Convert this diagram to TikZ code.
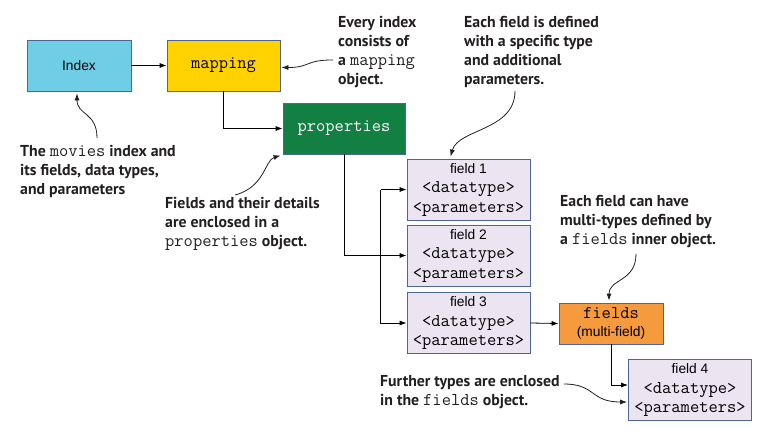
\documentclass[tikz,border=0pt]{standalone}
\usepackage{fontspec}
\setmainfont{Liberation Sans}
\newfontfamily\notefont{PT Sans}
\usepackage{tikz}
\usetikzlibrary{calc,arrows.meta}

\definecolor{indexblue}{HTML}{6FCDE6}
\definecolor{mapyellow}{HTML}{FFD200}
\definecolor{propgreen}{HTML}{128042}
\definecolor{multiorange}{HTML}{F59A3D}
\definecolor{fieldlilac}{HTML}{ECE5F1}
\definecolor{boxedge}{HTML}{4A6796}
\definecolor{notetext}{HTML}{231F20}

\newcommand{\mono}{\ttfamily\mdseries\fontsize{18}{19.5}\selectfont}
\newcommand{\boxsans}{\fontsize{13.8}{19.5}\selectfont}

\tikzset{
  box/.style={draw=boxedge, line width=0.8pt, rectangle, minimum width=104pt, minimum height=51pt,
    inner sep=0pt, font=\fontsize{13.8}{19.5}\selectfont},
  fieldbox/.style={box, fill=fieldlilac, minimum width=123pt, minimum height=61pt, align=center},
  note/.style={anchor=north west, inner sep=0pt, align=left, text=notetext,
    font=\notefont\bfseries\fontsize{15.8}{19}\selectfont},
  link/.style={-{Latex[length=7pt,width=5pt]}, line width=0.8pt},
  callout/.style={-{Latex[length=7pt,width=5pt]}, line width=0.8pt, notetext}
}

\begin{document}
\begin{tikzpicture}[x=1pt, y=-1pt]
            \useasboundingbox (0,0) rectangle (783,436);

            % Main blocks
            \node[box, fill=indexblue] (index) at (79,65.5) {Index};
            \node[box, fill=mapyellow, minimum width=113pt] (mapping) at (223.5,65.5) {\mono mapping};
            \node[box, fill=propgreen, minimum width=122pt, text=white] (properties) at (344,128.5) {\mono properties};

            % Field blocks
            \node[fieldbox] (field1) at (468.5,189.5) {field 1\\\mono <datatype>\\\mono <parameters>};
            \node[fieldbox] (field2) at (468.5,255.5) {field 2\\\mono <datatype>\\\mono <parameters>};
            \node[fieldbox] (field3) at (468.5,323) {field 3\\\mono <datatype>\\\mono <parameters>};
            \node[box, fill=multiorange, minimum height=41pt, align=center, font=\fontsize{13.8}{18}\selectfont] (fields) at (611,323.5)
              {\mono fields\\\boxsans (multi-field)};
            \node[fieldbox] (field4) at (690,390) {field 4\\\mono <datatype>\\\mono <parameters>};

            % Connectors
            \coordinate (split) at ($(field2.west)+(-26,0)$);
            \draw[link] (index.east) -- (mapping.west);
            \draw[link] (mapping.south) |- (properties.west);
            \draw[link] (properties.south) |- (field2.west);
            \draw[link] (split |- field1.west) -- (field1.west);
            \draw[link] (split |- field1.west) -- (split |- field3.west) -- (field3.west);
            \draw[link] (field3.east) -- (fields.west);
            \draw[link] (fields.south) |- ($(field4.west)+(0,-5)$);

            % Notes
            \node[note] (noteindex) at (20,145) {The {\mono movies} index and\\its fields, data types,\\and parameters};
            \node[note] (notemap) at (338,16) {Every index\\consists of\\a {\mono mapping}\\object.};
            \node[note] (notetype) at (464,16) {Each field is defined\\with a specific type\\and additional\\parameters.};
            \node[note] (noteprop) at (165,197) {Fields and their details\\are enclosed in a\\{\mono properties} object.};
            \node[note] (notemulti) at (560,195) {Each field can have\\multi-types defined by\\a {\mono fields} inner object.};
            \node[note] (notemore) at (380,375) {Further types are enclosed\\in the {\mono fields} object.};

            % Callout arrows
            \coordinate (cindex) at ($(noteindex.north west)+(77,-7)$);
            \draw[callout] (cindex) .. controls ($(cindex)+(0,-26)$) and ($(index.south)+(-2,24)$) .. ($(index.south)+(-2,2)$);
            \coordinate (cmap) at ($(notemap.west)+(-5,8)$);
            \draw[callout] (cmap) .. controls ($(cmap)+(-28,0)$) and ($(mapping.east)+(30,2)$) .. ($(mapping.east)+(1,2)$);
            \coordinate (ctype) at ($(notetype.south west)+(51,3)$);
            \draw[callout] (ctype) .. controls ($(ctype)+(0,40)$) and ($(field1.north)+(-10,-30)$) .. ($(field1.north)+(-18,-2)$);
            \coordinate (cprop) at ($(noteprop.north west)+(70,-2)$);
            \draw[callout] (cprop) .. controls ($(cprop)+(30,-8)$) and ($(properties.south west)+(-18,6)$) .. ($(properties.south west)+(-2,1)$);
            \coordinate (cmulti) at ($(notemulti.south west)+(76,6)$);
            \draw[callout] (cmulti) .. controls ($(cmulti)+(0,28)$) and ($(fields.north)+(-2,-24)$) .. ($(fields.north)+(-2,-2)$);
            \coordinate (cmore) at ($(notemore.north east)+(4,9)$);
            \draw[callout] (cmore) .. controls ($(cmore)+(32,0)$) and ($(field4.west)+(-38,12)$) .. ($(field4.west)+(-1,12)$);
            \end{tikzpicture}
\end{document}
